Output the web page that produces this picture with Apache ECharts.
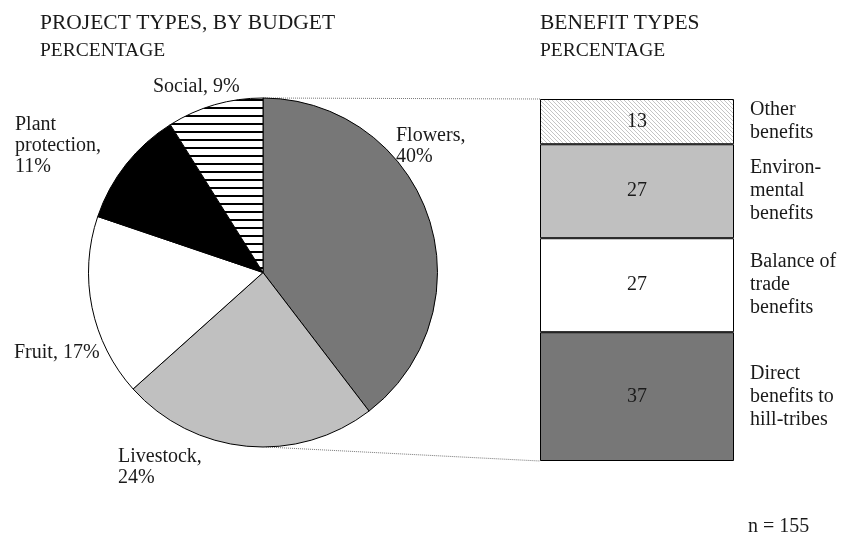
<!DOCTYPE html>
<html>
<head>
<meta charset="utf-8">
<script src="https://cdn.jsdelivr.net/npm/echarts@6/dist/echarts.min.js"></script>
<style>html,body{margin:0;padding:0;background:#fff;}#c{width:844px;height:541px;}</style>
</head>
<body>
<div id="c"></div>
<script>
// ---- data ----
const pieCategories = ['Flowers', 'Livestock', 'Fruit', 'Plant protection', 'Social'];
const pieValues = [40, 24, 17, 11, 9];
const pieDisplayNames = ['Flowers', 'Livestock', 'Fruit', 'Plant\nprotection', 'Social'];
const pieSeparators = [',\n', ',\n', ', ', ',\n', ', '];

const barCategories = ['Direct benefits to hill-tribes', 'Balance of trade benefits', 'Environmental benefits', 'Other benefits'];
const barValues = [37, 27, 27, 13];
const barDisplayNames = ['Direct\nbenefits to\nhill-tribes', 'Balance of\ntrade\nbenefits', 'Environ-\nmental\nbenefits', 'Other\nbenefits'];

const sampleNote = 'n = 155';

// ---- styles ----
const FONT = '"Liberation Serif", "Times New Roman", serif';
const TXT = '#1a1a1a';

function stripePattern() {
  const c = document.createElement('canvas');
  c.width = 8; c.height = 8;
  const g = c.getContext('2d');
  g.fillStyle = '#fff'; g.fillRect(0, 0, 8, 8);
  g.fillStyle = '#000'; g.fillRect(0, 3, 8, 2);
  return { image: c, repeat: 'repeat' };
}
function hatchPattern() {
  const c = document.createElement('canvas');
  c.width = 4; c.height = 4;
  const g = c.getContext('2d');
  g.fillStyle = '#fff'; g.fillRect(0, 0, 4, 4);
  g.fillStyle = '#c4c4c4';
  for (let i = 0; i < 4; i++) g.fillRect(i, i, 1, 1);
  return { image: c, repeat: 'repeat' };
}

const pieColors = ['#777777', '#c0c0c0', '#ffffff', '#000000', stripePattern()];
const barColors = ['#777777', '#ffffff', '#c0c0c0', hatchPattern()];

// label anchor points (top-left of each label block)
const pieLabelPos = [[396, 125], [118, 446], [14, 342], [15, 114], [153, 76]];

const PIE_CENTER = [263, 272.5];
const PIE_R = 174.5;
const GRID = { left: 540, top: 99, width: 194, height: 362 };

const chart = echarts.init(document.getElementById('c'));

const barTotal = barValues.reduce((a, b) => a + b, 0);

const series = [{
  type: 'pie',
  center: PIE_CENTER,
  radius: PIE_R,
  startAngle: 90,
  clockwise: true,
  silent: true,
  data: pieCategories.map((n, i) => ({
    name: n, value: pieValues[i],
    itemStyle: { color: pieColors[i] }
  })),
  itemStyle: { borderColor: '#000', borderWidth: 1 },
  label: {
    show: true,
    position: 'outside',
    alignTo: 'none',
    overflow: 'none',
    width: 200,
    formatter: p => pieDisplayNames[p.dataIndex] + pieSeparators[p.dataIndex] + pieValues[p.dataIndex] + '%',
    fontFamily: FONT, fontSize: 20, lineHeight: 21, color: TXT
  },
  labelLine: { show: false },
  labelLayout: p => ({
    x: pieLabelPos[p.dataIndex][0],
    y: pieLabelPos[p.dataIndex][1],
    align: 'left',
    verticalAlign: 'top',
    hideOverlap: false
  })
}];

barValues.forEach((v, i) => {
  series.push({
    type: 'bar', stack: 'seg', name: barCategories[i],
    data: [v], barWidth: '100%', barGap: '-100%', silent: true,
    itemStyle: { color: barColors[i], borderColor: '#000', borderWidth: 1 },
    label: { show: true, position: 'inside', formatter: '{c}', fontFamily: FONT, fontSize: 20, color: TXT }
  });
});
barValues.forEach((v, i) => {
  series.push({
    type: 'bar', stack: 'names', name: barCategories[i] + ' label',
    data: [v], barWidth: '100%', barGap: '-100%', silent: true, z: 1,
    itemStyle: { color: 'rgba(0,0,0,0)' },
    label: {
      show: true, position: 'right', distance: 16,
      formatter: barDisplayNames[i], align: 'left',
      fontFamily: FONT, fontSize: 20, lineHeight: 23, color: TXT
    }
  });
});

const option = {
  animation: false,
  backgroundColor: '#fff',
  title: [
    { text: 'PROJECT TYPES, BY BUDGET', left: 35, top: 7, textStyle: { fontFamily: FONT, fontSize: 21.5, fontWeight: 'normal', color: TXT } },
    { text: 'PERCENTAGE', left: 35, top: 36, textStyle: { fontFamily: FONT, fontSize: 19.5, fontWeight: 'normal', color: TXT } },
    { text: 'BENEFIT TYPES', left: 535, top: 7, textStyle: { fontFamily: FONT, fontSize: 21.5, fontWeight: 'normal', color: TXT } },
    { text: 'PERCENTAGE', left: 535, top: 36, textStyle: { fontFamily: FONT, fontSize: 19.5, fontWeight: 'normal', color: TXT } },
    { text: sampleNote, left: 743, top: 512, textStyle: { fontFamily: FONT, fontSize: 20, fontWeight: 'normal', color: TXT } }
  ],
  grid: GRID,
  xAxis: { type: 'category', data: ['benefits'], show: false },
  yAxis: { type: 'value', min: 0, max: barTotal, show: false },
  series: series
};
chart.setOption(option);

// connector lines derived from pie geometry and bar scale
const barTopY = chart.convertToPixel({ gridIndex: 0 }, [0, barTotal])[1];
const barBotY = chart.convertToPixel({ gridIndex: 0 }, [0, 0])[1];
const lineStyle = { stroke: '#777', lineWidth: 1, lineDash: [1, 1] };
chart.setOption({
  graphic: [
    { type: 'line', shape: { x1: PIE_CENTER[0], y1: PIE_CENTER[1] - PIE_R, x2: GRID.left, y2: barTopY }, style: lineStyle, z: 0 },
    { type: 'line', shape: { x1: PIE_CENTER[0] + 3, y1: PIE_CENTER[1] + PIE_R, x2: GRID.left, y2: barBotY }, style: lineStyle, z: 0 }
  ]
});
</script>
</body>
</html>
